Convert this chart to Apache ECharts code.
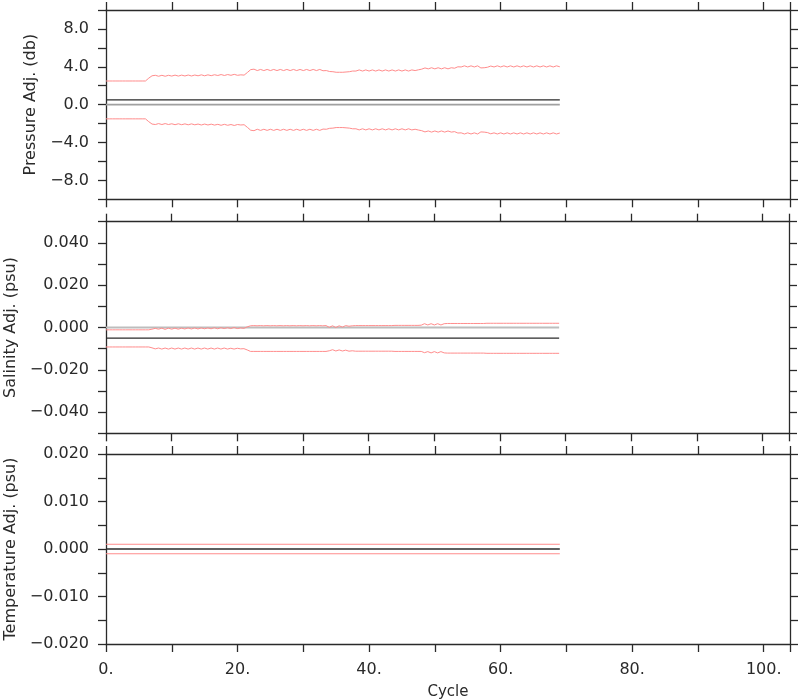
<!DOCTYPE html>
<html><head><meta charset="utf-8">
<script src="https://cdn.jsdelivr.net/npm/echarts@6/dist/echarts.min.js"></script>
<style>html,body{margin:0;padding:0;background:#fff}#c{width:800px;height:700px}</style>
</head><body><div id="c"></div>
<script>
// Cycle positions (half-cycle resolution)
var cycles = [0,0.5,1,1.5,2,2.5,3,3.5,4,4.5,5,5.5,6,6.5,7,7.5,8,8.5,9,9.5,10,10.5,11,11.5,12,12.5,13,13.5,14,14.5,15,15.5,16,16.5,17,17.5,18,18.5,19,19.5,20,20.5,21,21.5,22,22.5,23,23.5,24,24.5,25,25.5,26,26.5,27,27.5,28,28.5,29,29.5,30,30.5,31,31.5,32,32.5,33,33.5,34,34.5,35,35.5,36,36.5,37,37.5,38,38.5,39,39.5,40,40.5,41,41.5,42,42.5,43,43.5,44,44.5,45,45.5,46,46.5,47,47.5,48,48.5,49,49.5,50,50.5,51,51.5,52,52.5,53,53.5,54,54.5,55,55.5,56,56.5,57,57.5,58,58.5,59,59.5,60,60.5,61,61.5,62,62.5,63,63.5,64,64.5,65,65.5,66,66.5,67,67.5,68,68.5,69];

var pressureUpper = [
2.5,2.5, 2.5,2.5, 2.5,2.5, 2.5,2.5, 2.5,2.5, 2.5,2.5, 2.5,2.8, 3.05,3.1, 3.0,3.1, 3.0,3.1,
3.02,3.12, 3.02,3.12, 3.03,3.13, 3.03,3.13, 3.05,3.15, 3.05,3.15, 3.06,3.16, 3.08,3.18, 3.08,3.18, 3.1,3.2,
3.1,3.15, 3.12,3.4, 3.7,3.75, 3.6,3.72, 3.6,3.72, 3.6,3.72, 3.6,3.72, 3.6,3.72, 3.6,3.72, 3.6,3.72,
3.6,3.72, 3.6,3.72, 3.6,3.72, 3.58,3.6, 3.5,3.48, 3.42,3.42, 3.42,3.45, 3.48,3.55, 3.55,3.67, 3.55,3.67,
3.55,3.67, 3.55,3.67, 3.55,3.67, 3.55,3.67, 3.55,3.67, 3.55,3.67, 3.55,3.67, 3.6,3.68, 3.75,3.88, 3.78,3.9,
3.78,3.9, 3.78,3.9, 3.78,3.9, 3.85,4.0, 3.98,4.1, 3.98,4.1, 3.98,4.1, 3.88,3.9, 3.95,4.08, 3.98,4.1,
3.98,4.1, 3.98,4.1, 3.98,4.1, 3.98,4.1, 3.98,4.1, 3.98,4.1, 3.98,4.1, 3.98,4.1, 3.98,4.1, 4.0];

var pressureLower = [
-1.5,-1.5, -1.5,-1.5, -1.5,-1.5, -1.5,-1.5, -1.5,-1.5, -1.5,-1.5, -1.5,-1.8, -2.05,-2.1, -2.0,-2.1, -2.0,-2.1,
-2.02,-2.12, -2.02,-2.12, -2.03,-2.13, -2.03,-2.13, -2.05,-2.15, -2.05,-2.15, -2.06,-2.16, -2.08,-2.18, -2.08,-2.18, -2.1,-2.2,
-2.1,-2.15, -2.12,-2.4, -2.7,-2.75, -2.6,-2.72, -2.6,-2.72, -2.6,-2.72, -2.6,-2.72, -2.6,-2.72, -2.6,-2.72, -2.6,-2.72,
-2.6,-2.72, -2.6,-2.72, -2.6,-2.72, -2.58,-2.6, -2.5,-2.48, -2.42,-2.42, -2.42,-2.45, -2.48,-2.55, -2.55,-2.67, -2.55,-2.67,
-2.55,-2.67, -2.55,-2.67, -2.55,-2.67, -2.55,-2.67, -2.55,-2.67, -2.55,-2.67, -2.55,-2.67, -2.6,-2.68, -2.75,-2.88, -2.78,-2.9,
-2.78,-2.9, -2.78,-2.9, -2.78,-2.9, -2.85,-3.0, -2.98,-3.1, -2.98,-3.1, -2.98,-3.1, -2.88,-2.9, -2.95,-3.08, -2.98,-3.1,
-2.98,-3.1, -2.98,-3.1, -2.98,-3.1, -2.98,-3.1, -2.98,-3.1, -2.98,-3.1, -2.98,-3.1, -2.98,-3.1, -2.98,-3.1, -3.0];

var salinityUpper = [
-0.0011,-0.0011, -0.0011,-0.0011, -0.0011,-0.0011, -0.0011,-0.0011, -0.0011,-0.0011, -0.0011,-0.0011, -0.0011,-0.0011, -0.0008,-0.0004, -0.0008,-0.0003, -0.0009,-0.0003,
-0.0008,-0.0003, -0.0008,-0.0003, -0.0007,-0.0002, -0.0007,-0.0002, -0.0007,-0.0002, -0.0006,-0.0002, -0.0006,-0.0001, -0.0006,-0.0001, -0.0005,-0.0001, -0.0005,0.0,
-0.0005,-0.0002, -0.0004,0.0003, 0.0008,0.0009, 0.0008,0.0009, 0.0008,0.0009, 0.0008,0.0009, 0.0008,0.0009, 0.0008,0.0009, 0.0008,0.0009, 0.0008,0.0009,
0.0008,0.0009, 0.0008,0.0009, 0.0008,0.0009, 0.0008,0.0009, 0.0001,0.0008, 0.0,0.0008, 0.0002,0.0009, 0.0006,0.0008, 0.0009,0.0009, 0.0009,0.0009,
0.0009,0.0009, 0.0009,0.0009, 0.0009,0.0009, 0.0009,0.0009, 0.001,0.001, 0.001,0.001, 0.001,0.001, 0.001,0.001, 0.0011,0.0018, 0.0012,0.0018,
0.0012,0.0018, 0.0012,0.0018, 0.0019,0.0019, 0.0019,0.0019, 0.0019,0.0019, 0.0019,0.0019, 0.0019,0.0019, 0.0019,0.0019, 0.002,0.002, 0.002,0.002,
0.002,0.002, 0.002,0.002, 0.002,0.002, 0.002,0.002, 0.002,0.002, 0.002,0.002, 0.002,0.002, 0.002,0.002, 0.002,0.002, 0.002];

var salinityLower = [
-0.0092,-0.0092, -0.0092,-0.0092, -0.0092,-0.0092, -0.0092,-0.0092, -0.0092,-0.0092, -0.0092,-0.0092, -0.0092,-0.0092, -0.0096,-0.0101, -0.0097,-0.0102, -0.0097,-0.0102,
-0.0097,-0.0102, -0.0097,-0.0102, -0.0097,-0.0102, -0.0097,-0.0102, -0.0097,-0.0102, -0.0097,-0.0102, -0.0097,-0.0102, -0.0097,-0.0102, -0.0097,-0.0102, -0.0098,-0.0102,
-0.0098,-0.0101, -0.0100,-0.0106, -0.0113,-0.0113, -0.0113,-0.0113, -0.0113,-0.0113, -0.0113,-0.0113, -0.0113,-0.0113, -0.0113,-0.0113, -0.0113,-0.0113, -0.0113,-0.0113,
-0.0113,-0.0113, -0.0113,-0.0113, -0.0113,-0.0113, -0.0113,-0.0113, -0.0110,-0.0105, -0.0111,-0.0106, -0.0111,-0.0107, -0.0112,-0.0110, -0.0112,-0.0112, -0.0112,-0.0112,
-0.0112,-0.0112, -0.0112,-0.0112, -0.0112,-0.0112, -0.0112,-0.0112, -0.0113,-0.0113, -0.0113,-0.0113, -0.0113,-0.0113, -0.0113,-0.0113, -0.0113,-0.0119, -0.0114,-0.0120,
-0.0114,-0.0120, -0.0114,-0.0120, -0.0121,-0.0121, -0.0121,-0.0121, -0.0121,-0.0121, -0.0121,-0.0121, -0.0121,-0.0121, -0.0121,-0.0121, -0.0122,-0.0122, -0.0122,-0.0122,
-0.0122,-0.0122, -0.0122,-0.0122, -0.0122,-0.0122, -0.0122,-0.0122, -0.0122,-0.0122, -0.0122,-0.0122, -0.0122,-0.0122, -0.0122,-0.0122, -0.0122,-0.0122, -0.0122];

// Reference / bound lines (start and end cycle)
var refCycles = [0, 69];
var pressureMean = [0.5, 0.5];
var pressureZero = [0, 0];
var salinityMean = [-0.005, -0.005];
var salinityZero = [0, 0];
var temperatureUpper = [0.001, 0.001];
var temperatureLower = [-0.001, -0.001];
var temperatureMean = [0, 0];

var xTickLabels = ['0.', '20.', '40.', '60.', '80.', '100.'];
var yNames = ['Pressure Adj. (db)', 'Salinity Adj. (psu)', 'Temperature Adj. (psu)'];

function pairs(xs, ys) { return xs.map(function (x, i) { return [x, ys[i]]; }); }

var RED = '#ff8c8c', INK = '#2a2a2a', FONT = 'DejaVu Sans';
var grids = [
  {left: 106, right: 10, top: 10, height: 189.3, outerBoundsMode: 'none', containLabel: false},
  {left: 106, right: 11, top: 221.7, height: 211.6, outerBoundsMode: 'none', containLabel: false},
  {left: 106, right: 10, top: 454, height: 190, outerBoundsMode: 'none', containLabel: false}
];
var yCfg = [
  {min: -10, max: 10, interval: 2, step: 4, dec: 1, gap: 60},
  {min: -0.05, max: 0.05, interval: 0.01, step: 0.02, dec: 3, gap: 85},
  {min: -0.02, max: 0.02, interval: 0.005, step: 0.01, dec: 3, gap: 85}
];
var lineStyleAxis = {color: INK, width: 1.3};
var xAxes = [], yAxes = [];
grids.forEach(function (g, i) {
  var bottomLabels = i === 2;
  xAxes.push({
    type: 'value', gridIndex: i, position: 'bottom', min: 0, max: 104, interval: 10,
    axisLine: {show: true, onZero: false, lineStyle: lineStyleAxis},
    axisTick: {show: true, length: 8, lineStyle: lineStyleAxis},
    splitLine: {show: false},
    axisLabel: {show: bottomLabels, margin: 18, color: INK, fontFamily: FONT, fontSize: 16,
      formatter: function (v) { var k = Math.round(v / 20); return (Math.abs(v - k * 20) < 1e-6 && k >= 0 && k < xTickLabels.length) ? xTickLabels[k] : ''; }},
    name: bottomLabels ? 'Cycle' : '', nameLocation: 'middle', nameGap: 41,
    nameTextStyle: {color: INK, fontFamily: FONT, fontSize: 15}
  });
  xAxes.push({
    type: 'value', gridIndex: i, position: 'top', min: 0, max: 104, interval: 10,
    axisLine: {show: true, onZero: false, lineStyle: lineStyleAxis},
    axisTick: {show: true, length: 8, lineStyle: lineStyleAxis},
    splitLine: {show: false}, axisLabel: {show: false}
  });
  var c = yCfg[i];
  yAxes.push({
    type: 'value', gridIndex: i, position: 'left', min: c.min, max: c.max, interval: c.interval,
    axisLine: {show: true, onZero: false, lineStyle: lineStyleAxis},
    axisTick: {show: true, length: 8, lineStyle: lineStyleAxis},
    splitLine: {show: false},
    axisLabel: {margin: 17, color: INK, fontFamily: FONT, fontSize: 16,
      formatter: function (v) {
        var k = Math.round(v / c.step);
        if (Math.abs(v - k * c.step) > c.interval * 0.01) return '';
        var s = Math.abs(v).toFixed(c.dec);
        return (v < -1e-12 ? '\u2212' : '') + s;
      }},
    name: yNames[i], nameLocation: 'middle', nameGap: c.gap,
    nameTextStyle: {color: INK, fontFamily: FONT, fontSize: 16}
  });
  yAxes.push({
    type: 'value', gridIndex: i, position: 'right', min: c.min, max: c.max, interval: c.interval,
    axisLine: {show: true, onZero: false, lineStyle: lineStyleAxis},
    axisTick: {show: true, length: 8, lineStyle: lineStyleAxis},
    splitLine: {show: false}, axisLabel: {show: false}
  });
});

function line(gi, data, color, width, z) {
  return {type: 'line', xAxisIndex: gi * 2, yAxisIndex: gi * 2, data: data, showSymbol: false,
    symbol: 'none', lineStyle: {color: color, width: width}, z: z || 2, silent: true};
}

var series = [
  line(0, pairs(refCycles, pressureZero), '#a0a0a0', 1.6, 1),
  line(0, pairs(refCycles, pressureMean), INK, 1.3, 2),
  line(0, pairs(cycles, pressureUpper), RED, 1, 3),
  line(0, pairs(cycles, pressureLower), RED, 1, 3),
  line(1, pairs(refCycles, salinityZero), '#bdbdbd', 2, 1),
  line(1, pairs(refCycles, salinityMean), INK, 1.3, 2),
  line(1, pairs(cycles, salinityUpper), RED, 1, 3),
  line(1, pairs(cycles, salinityLower), RED, 1, 3),
  line(2, pairs(refCycles, temperatureMean), INK, 1.3, 2),
  line(2, pairs(refCycles, temperatureUpper), RED, 1, 3),
  line(2, pairs(refCycles, temperatureLower), RED, 1, 3)
];

var chart = echarts.init(document.getElementById('c'), null, {renderer: 'canvas'});
chart.setOption({
  animation: false,
  backgroundColor: '#fff',
  grid: grids,
  xAxis: xAxes,
  yAxis: yAxes,
  series: series
});
</script>
</body></html>
